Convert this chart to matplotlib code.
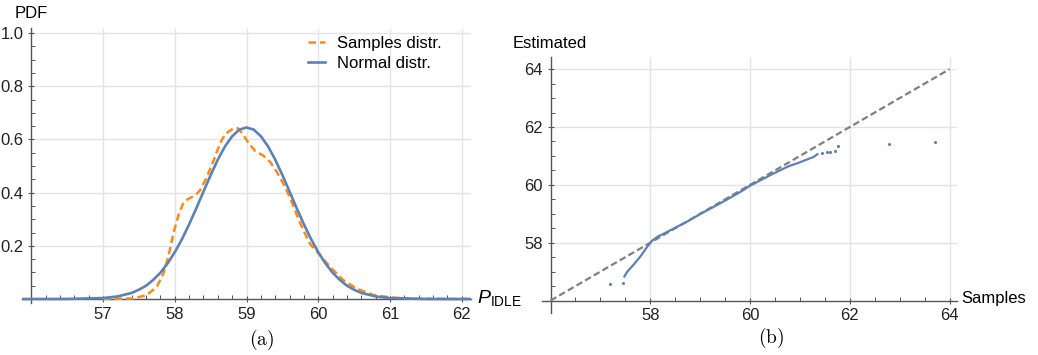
import matplotlib
matplotlib.use("Agg")
import matplotlib.pyplot as plt
from matplotlib.ticker import MultipleLocator

plt.rcParams['font.family'] = ['Liberation Sans', 'DejaVu Sans']
plt.rcParams['mathtext.fontset'] = 'custom'
plt.rcParams['mathtext.rm'] = 'Liberation Sans'
plt.rcParams['mathtext.it'] = 'Liberation Sans:italic'

# (a) PDF curves
normal_x = [55.87, 56.5, 57.0, 57.2, 57.4, 57.5, 57.6, 57.7, 57.8, 57.9, 58.0, 58.1, 58.2,
            58.3, 58.4, 58.5, 58.6, 58.7, 58.8, 58.9, 59.0, 59.1, 59.2, 59.3, 59.4, 59.5,
            59.6, 59.7, 59.8, 59.9, 60.0, 60.1, 60.2, 60.3, 60.4, 60.5, 60.6, 60.8, 61.0,
            61.5, 62.13]
normal_y = [0.0, 0.0002, 0.0036, 0.0095, 0.023, 0.035, 0.050, 0.072, 0.099, 0.134, 0.176,
            0.225, 0.281, 0.341, 0.404, 0.466, 0.524, 0.574, 0.612, 0.637, 0.645, 0.637,
            0.612, 0.574, 0.524, 0.466, 0.404, 0.341, 0.281, 0.225, 0.176, 0.134, 0.099,
            0.072, 0.050, 0.035, 0.023, 0.0095, 0.0036, 0.0002, 0.0]

samples_x = [57.0, 57.42, 57.61, 57.75, 57.84, 57.91, 57.98, 58.05, 58.12, 58.19, 58.28,
             58.35, 58.44, 58.54, 58.63, 58.70, 58.82, 58.88, 58.95, 59.02, 59.12, 59.23,
             59.33, 59.42, 59.51, 59.60, 59.74, 59.88, 60.0, 60.16, 60.35, 60.53, 60.77,
             61.04, 61.37, 62.13]
samples_y = [0.0, 0.002, 0.015, 0.046, 0.096, 0.159, 0.247, 0.315, 0.362, 0.377, 0.389,
             0.408, 0.455, 0.52, 0.585, 0.62, 0.642, 0.642, 0.62, 0.59, 0.556, 0.54,
             0.515, 0.479, 0.435, 0.385, 0.29, 0.209, 0.172, 0.122, 0.071, 0.04, 0.015,
             0.005, 0.001, 0.0]

# (b) Q-Q plot
qq_x = [57.48, 57.54, 57.66, 57.80, 57.93, 58.03, 58.14, 58.30, 58.47, 58.74, 59.00,
        59.40, 59.81, 59.99, 60.41, 60.61, 60.78, 60.94, 61.28, 61.35]
qq_y = [56.83, 57.00, 57.23, 57.52, 57.84, 58.06, 58.20, 58.34, 58.49, 58.73, 58.99,
        59.36, 59.76, 59.96, 60.34, 60.51, 60.65, 60.74, 60.97, 61.06]
out_x = [57.20, 57.46, 61.45, 61.55, 61.60, 61.71, 61.76, 62.78, 63.70]
out_y = [56.57, 56.62, 61.09, 61.12, 61.12, 61.17, 61.34, 61.42, 61.49]
ref_line = [56, 64]

pdf_xticks = [57, 58, 59, 60, 61, 62]
pdf_yticks = [0.2, 0.4, 0.6, 0.8, 1.0]
qq_ticks = [58, 60, 62, 64]

blue = '#5e81b5'
orange = '#ff8a1c'
grid_c = '#e4e4e4'
axis_c = '#555555'
fs = 12

fig = plt.figure(figsize=(10.38, 3.55), dpi=100)


def style_axes(ax, x0, y0, xmaj, ymaj, xmin, ymin, xlim, ylim):
    ax.set_xlim(*xlim)
    ax.set_ylim(*ylim)
    for s in ['top', 'right']:
        ax.spines[s].set_visible(False)
    ax.spines['left'].set_position(('data', x0))
    ax.spines['bottom'].set_position(('data', y0))
    for s in ['left', 'bottom']:
        ax.spines[s].set_color(axis_c)
        ax.spines[s].set_linewidth(1.0)
    ax.set_xticks(xmaj)
    ax.set_yticks(ymaj)
    ax.xaxis.set_minor_locator(MultipleLocator(xmin))
    ax.yaxis.set_minor_locator(MultipleLocator(ymin))
    ax.tick_params(which='major', direction='inout', length=5, width=0.8,
                   colors=axis_c, labelcolor='#222222', labelsize=fs, pad=3)
    ax.tick_params(which='minor', direction='in', length=3, width=0.7, colors=axis_c)
    # grid from the axes origin onwards
    ax.vlines(xmaj, y0, ylim[1], color=grid_c, lw=1.0, zorder=0)
    ax.hlines(ymaj, x0, xlim[1], color=grid_c, lw=1.0, zorder=0)


ax1 = fig.add_axes([0.0212, 0.1465, 0.4326, 0.7746])
style_axes(ax1, 56, 0, pdf_xticks, pdf_yticks, 0.2, 0.05,
           (55.87, 62.13), (-0.015, 1.019))
ax1.set_yticklabels(['0.2', '0.4', '0.6', '0.8', '1.0'])
ax1.plot(samples_x, samples_y, color=orange, lw=1.8, ls=(0, (3, 1.6)),
         label='Samples distr.', zorder=3)
ax1.plot(normal_x, normal_y, color=blue, lw=1.9, label='Normal distr.', zorder=4)
ax1.legend(loc='upper left', bbox_to_anchor=(300 / 1038, 1 - 28 / 355),
           bbox_transform=fig.transFigure, frameon=False, fontsize=fs,
           handlelength=1.0, handletextpad=0.7, labelspacing=0.3, borderpad=0)

ax2 = fig.add_axes([0.5222, 0.1183, 0.3998, 0.7211])
style_axes(ax2, 56, 56, qq_ticks, qq_ticks, 0.5, 0.5,
           (55.83, 64.15), (55.57, 64.42))
ax2.plot(ref_line, ref_line, color='#808080', lw=1.6, ls=(0, (3, 1.5)), zorder=3)
ax2.plot(qq_x, qq_y, color=blue, lw=1.6, zorder=4)
ax2.scatter(out_x, out_y, s=5, color=blue, lw=0, zorder=4)

fig.text(31 / 1038, 1 - 13 / 355, 'PDF', ha='center', va='center', fontsize=fs)
fig.text(550 / 1038, 1 - 44 / 355, 'Estimated', ha='center', va='center', fontsize=fs)
fig.text(477 / 1038, 1 - 298 / 355, r'$P_{\mathrm{IDLE}}$', ha='left', va='center',
         fontsize=14)
fig.text(961 / 1038, 1 - 299 / 355, 'Samples', ha='left', va='center', fontsize=fs)
fig.text(262 / 1038, 1 - 340 / 355, r'$\mathrm{(a)}$', ha='center', va='center',
         fontsize=14, math_fontfamily='cm')
fig.text(771 / 1038, 1 - 338 / 355, r'$\mathrm{(b)}$', ha='center', va='center',
         fontsize=14, math_fontfamily='cm')

fig.savefig('out.png', dpi=100)
